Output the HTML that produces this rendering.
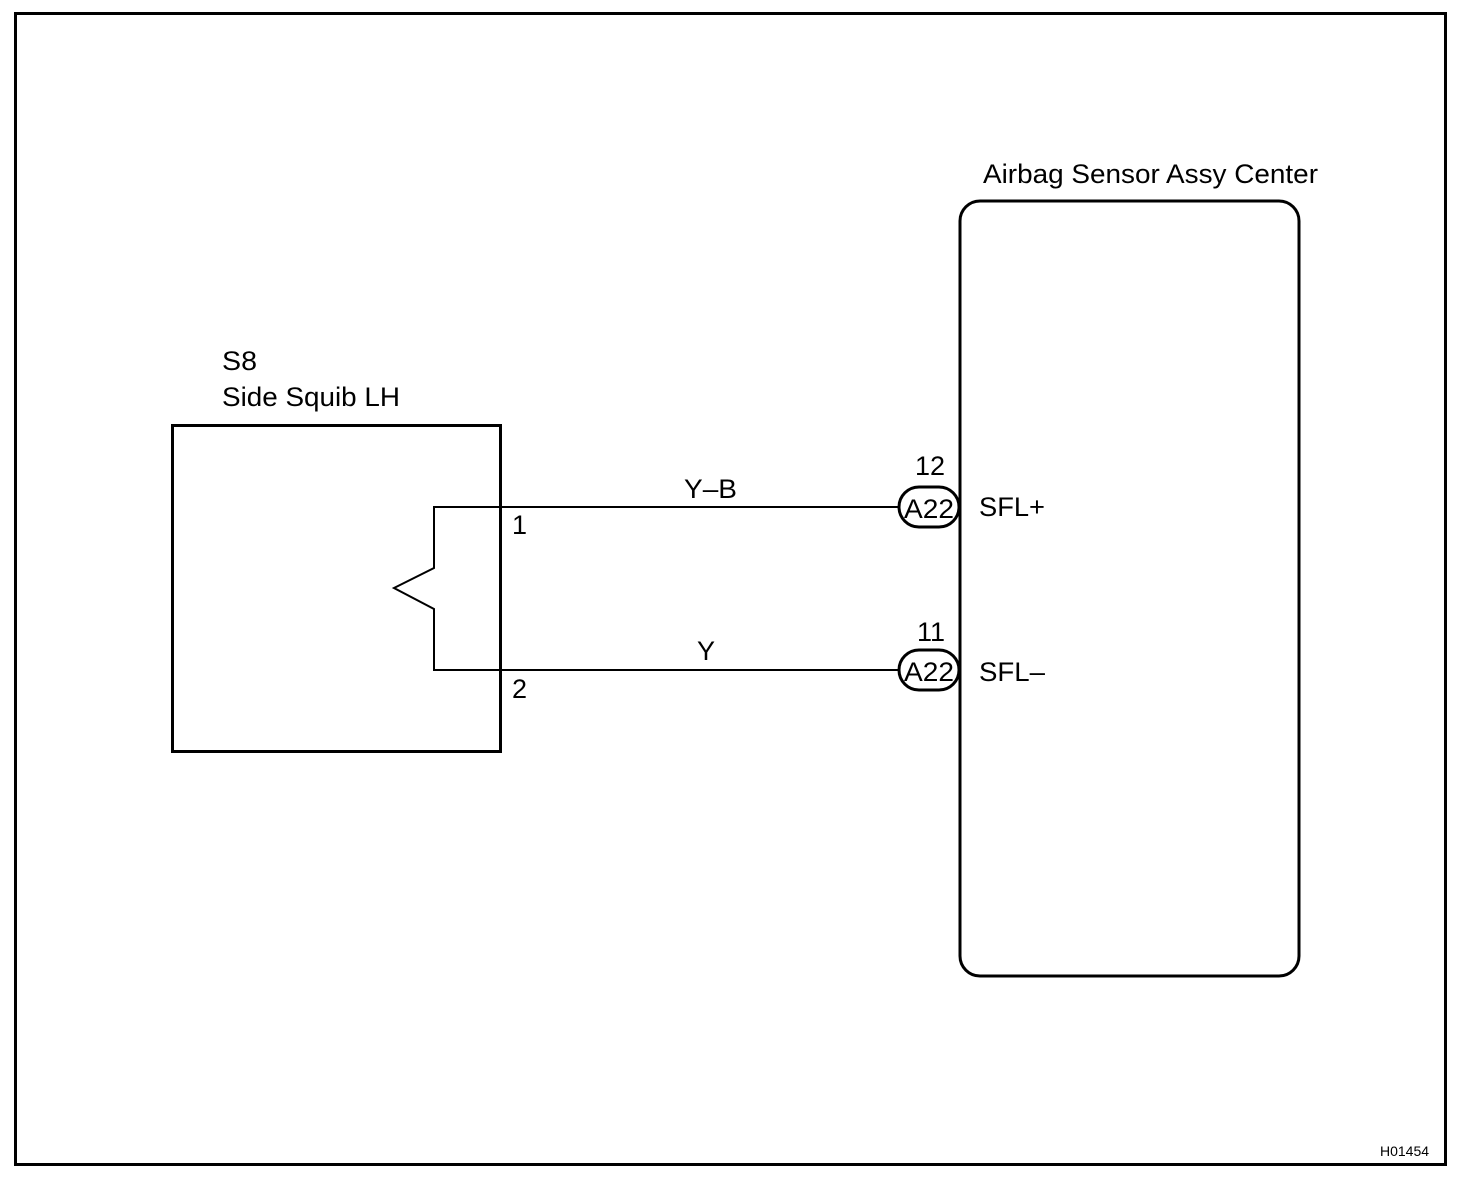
<!DOCTYPE html>
<html><head><style>
body{margin:0;background:#fff}
svg{display:block}
text{font-family:"Liberation Sans",Arial,sans-serif;fill:#000}
</style></head><body>
<svg width="1472" height="1188" viewBox="0 0 1472 1188" xmlns="http://www.w3.org/2000/svg">
<rect x="15.5" y="13.5" width="1430" height="1151" fill="none" stroke="#000" stroke-width="3"/>
<rect x="960" y="201" width="339" height="775" rx="20" fill="none" stroke="#000" stroke-width="3"/>
<rect x="172.5" y="425.5" width="328" height="326" fill="none" stroke="#000" stroke-width="3"/>
<polyline points="900,507 434,507 434,568 394,588 434,609 434,670 900,670" fill="none" stroke="#000" stroke-width="2"/>
<rect x="899" y="487" width="60" height="40" rx="20" fill="#fff" stroke="#000" stroke-width="3"/>
<rect x="899" y="650" width="60" height="40" rx="20" fill="#fff" stroke="#000" stroke-width="3"/>
<g font-size="27">
<text x="983" y="183" textLength="335" lengthAdjust="spacingAndGlyphs">Airbag Sensor Assy Center</text>
<text x="222" y="370" textLength="35" lengthAdjust="spacingAndGlyphs">S8</text>
<text x="222" y="406" textLength="178" lengthAdjust="spacingAndGlyphs">Side Squib LH</text>
<text x="684" y="498" textLength="53" lengthAdjust="spacingAndGlyphs">Y–B</text>
<text x="697" y="660">Y</text>
<text x="512" y="534">1</text>
<text x="512" y="698">2</text>
<text x="915" y="475">12</text>
<text x="917" y="641">11</text>
<text x="979" y="516" textLength="66" lengthAdjust="spacingAndGlyphs">SFL+</text>
<text x="979" y="681" textLength="66" lengthAdjust="spacingAndGlyphs">SFL–</text>
<text x="929" y="518" text-anchor="middle" textLength="50" lengthAdjust="spacingAndGlyphs">A22</text>
<text x="929" y="681" text-anchor="middle" textLength="50" lengthAdjust="spacingAndGlyphs">A22</text>
</g>
<text x="1380" y="1156" font-size="14">H01454</text>
</svg>
</body></html>
